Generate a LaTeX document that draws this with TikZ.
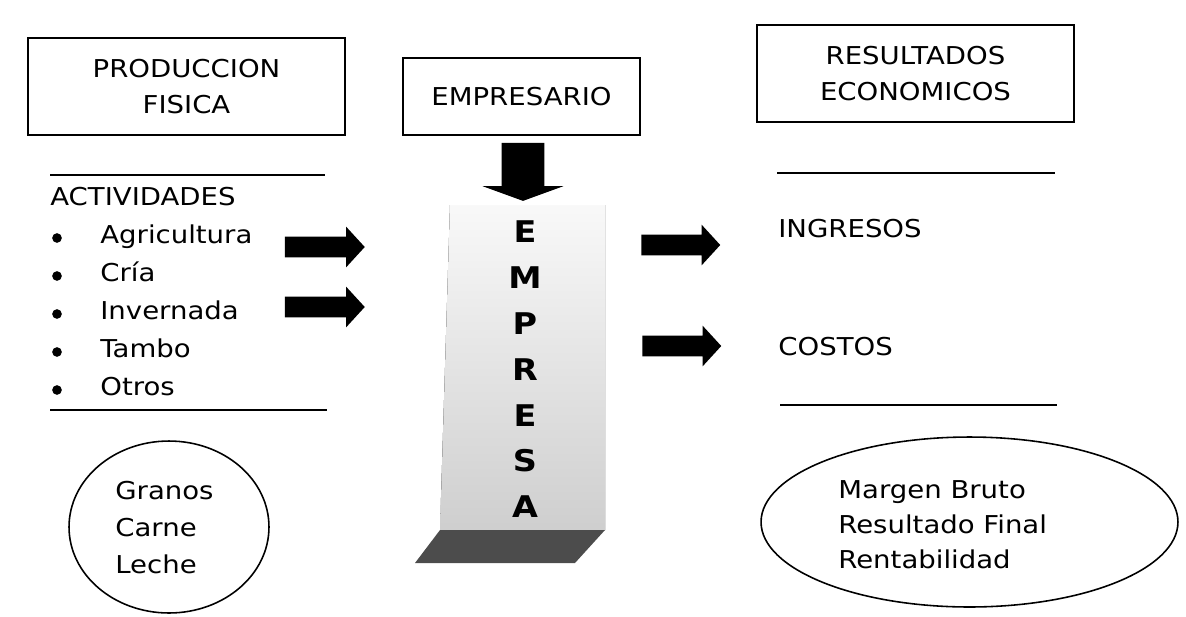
\documentclass[tikz,border=0pt]{standalone}
\usepackage{fontspec}
\setmainfont{DejaVu Sans}[FakeStretch=1.12]
\usetikzlibrary{shapes.arrows,shapes.geometric}
\tikzset{titlebox/.style={shape=rectangle, draw, line width=1pt, align=center, inner sep=0pt, font=\fontsize{14}{20.5}\selectfont},
blockarrow/.style={shape=single arrow, fill=black, inner xsep=0pt, inner ysep=0.2cm, single arrow head extend=0.2cm, single arrow tip angle=95, minimum height=1.6cm},
plaintext/.style={anchor=west, inner sep=0pt, text height=1.6ex, text depth=0.4ex, font=\fontsize{14}{17}\selectfont},
bubble/.style={shape=ellipse, draw, line width=0.9pt, inner sep=0pt},
letternode/.style={inner sep=0pt, font=\fontsize{17}{17}\bfseries\selectfont}}

\begin{document}
\begin{tikzpicture}[x=0.02cm,y=-0.02cm]
\useasboundingbox (0,0) rectangle (1186,616);

\node[titlebox, minimum width=6.34cm, minimum height=1.94cm] (produccion) at (186.5,86.5) {PRODUCCION\\FISICA};
\node[titlebox, minimum width=4.74cm, minimum height=1.54cm] (empresario) at (521.5,96.5) {EMPRESARIO};
\node[titlebox, minimum width=6.34cm, minimum height=1.94cm] (resultados) at (915.5,73.5) {RESULTADOS\\ECONOMICOS};

\draw[line width=0.8pt] (50,175) -- (325,175);
\draw[line width=0.8pt] (50,410) -- (327,410);
\draw[line width=0.8pt] (777,173) -- (1055,173);
\draw[line width=0.8pt] (780,405) -- (1057,405);

\node[plaintext] (actividades) at (50,200) {ACTIVIDADES};
\foreach \item [count=\i] in {Agricultura,Cría,Invernada,Tambo,Otros}
{
        \pgfmathsetmacro{\y}{238 + 38 * (\i - 1)} ;
        \node[circle, fill=black, inner sep=0pt, minimum size=5.5pt] (bullet\i) at (57,\y) {} ;
        \node[plaintext] (act\i) at (100,\y) {\item} ;
}

\fill[top color=gray!5, bottom color=gray!38] (450,205) -- (605,205) -- (605,530) -- (440,530) -- cycle;
\fill[black!70] (440,530) -- (605,530) -- (575,563) -- (415,563) -- cycle;
\foreach \l [count=\i] in {E,M,P,R,E,S,A}
{
        \pgfmathsetmacro{\y}{232 + 45.8 * (\i - 1)} ;
        \node[letternode] (empresa\i) at (525,\y) {\l} ;
}

\node[blockarrow, rotate=-90, minimum height=1.16cm, inner ysep=0.42cm, single arrow head extend=0.38cm, single arrow tip angle=140] (down) at (523,168) {};
\node[blockarrow] (in1) at (320,247) {};
\node[blockarrow] (in2) at (320,307) {};
\node[blockarrow, minimum height=1.58cm] (out1) at (676,245) {};
\node[blockarrow, minimum height=1.58cm] (out2) at (677,346) {};

\node[plaintext] (ingresos) at (778,232) {INGRESOS};
\node[plaintext] (costos) at (778,350) {COSTOS};

\node[bubble, minimum width=4.0cm, minimum height=3.44cm] (productos) at (169,527) {};
\foreach \item [count=\i] in {Granos,Carne,Leche}
{
        \pgfmathsetmacro{\y}{494 + 37 * (\i - 1)} ;
        \node[plaintext] (prod\i) at (115,\y) {\item} ;
}
\node[bubble, minimum width=8.34cm, minimum height=3.4cm] (indicadores) at (969.5,522) {};
\foreach \item [count=\i] in {Margen Bruto,Resultado Final,Rentabilidad}
{
        \pgfmathsetmacro{\y}{493 + 35 * (\i - 1)} ;
        \node[plaintext] (ind\i) at (838,\y) {\item} ;
}
\end{tikzpicture}
\end{document}
